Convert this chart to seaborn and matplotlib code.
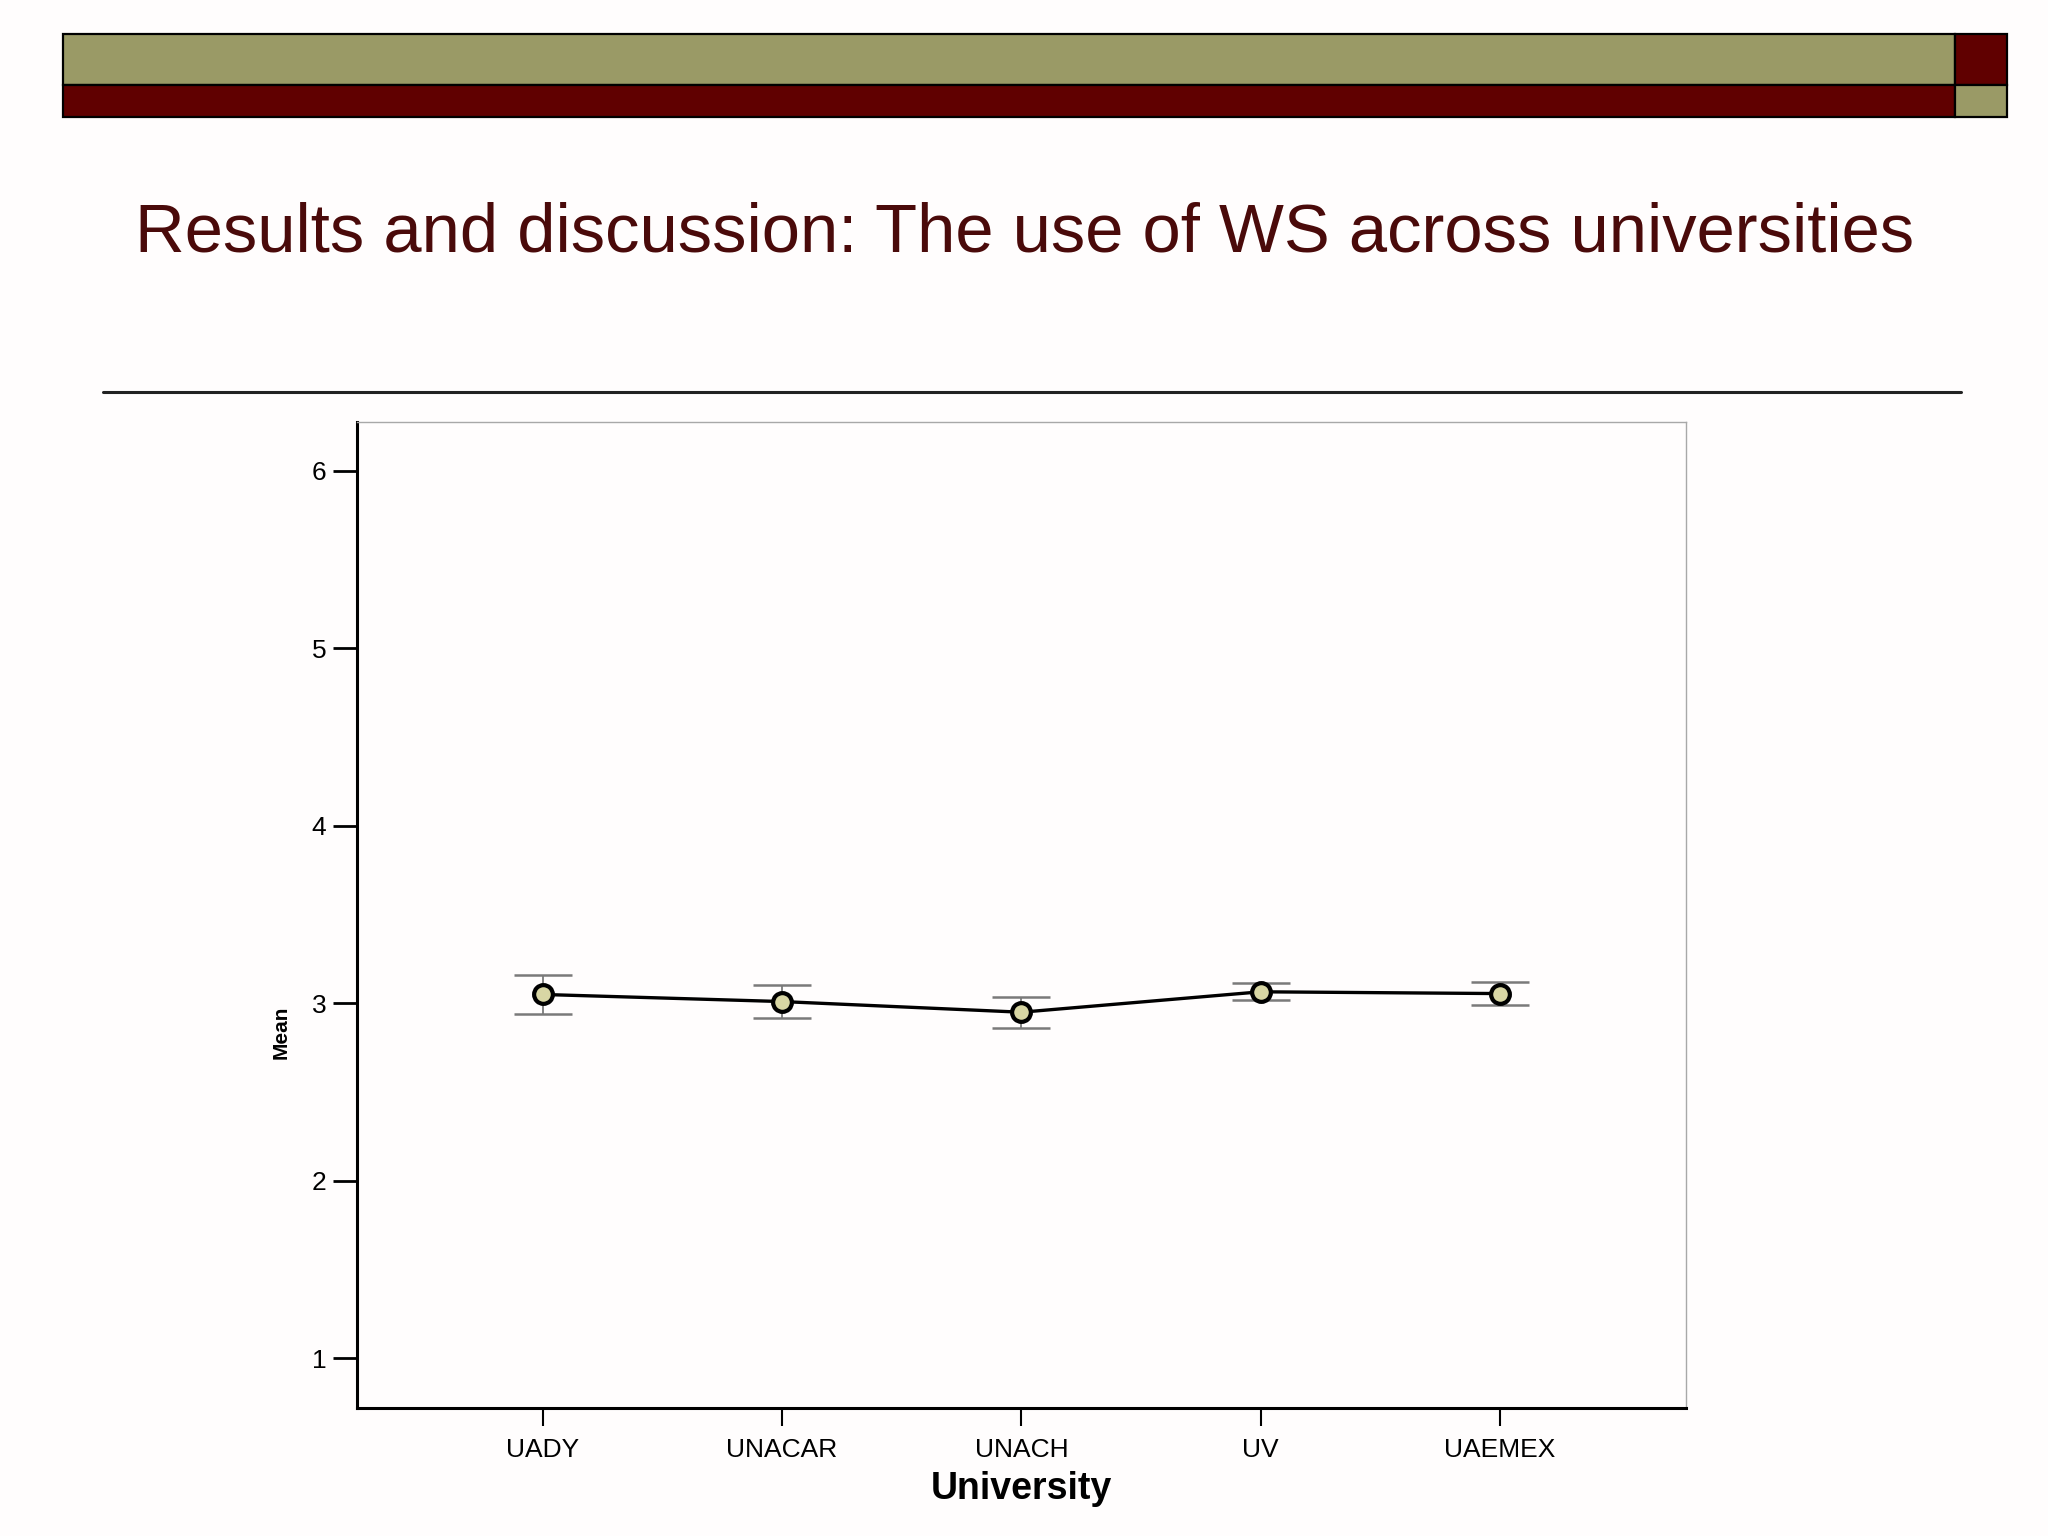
import matplotlib
matplotlib.use("Agg")
import matplotlib.pyplot as plt
import numpy as np
import pandas as pd
import seaborn as sns
from matplotlib.patches import Rectangle
from matplotlib.lines import Line2D

# data
universities = ["UADY", "UNACAR", "UNACH", "UV", "UAEMEX"]
means = [3.05, 3.01, 2.95, 3.065, 3.055]
ci_low = [2.94, 2.92, 2.86, 3.02, 2.99]
ci_high = [3.16, 3.105, 3.035, 3.115, 3.12]
y_ticks = [1, 2, 3, 4, 5, 6]

TITLE = "Results and discussion: The use of WS across universities"
OLIVE = "#9a9a66"
MAROON = "#600000"
TITLE_COL = "#4a0a0a"

sns.set_theme(style="white")
plt.rcParams["font.family"] = ["Liberation Sans", "DejaVu Sans"]

W, H = 2048, 1536
fig = plt.figure(figsize=(W / 100, H / 100), dpi=100)
fig.patch.set_facecolor("#fffdfd")


def px(x, y):
    # pixel coords (top-left origin) -> figure fraction
    return x / W, 1 - y / H


# slide header bars
def bar(x0, y0, x1, y1, colour):
    fx, fy = px(x0, y1)
    fig.patches.append(Rectangle((fx, fy), (x1 - x0) / W, (y1 - y0) / H,
                                 transform=fig.transFigure, facecolor=colour,
                                 edgecolor="black", linewidth=1.6))


bar(63, 34, 1955, 85, OLIVE)
bar(63, 85, 1955, 117, MAROON)
bar(1955, 34, 2007, 85, MAROON)
bar(1955, 85, 2007, 117, OLIVE)

fig.text(*px(1025, 234), TITLE, ha="center", va="center",
         fontsize=49.5, color=TITLE_COL)

x0, y0 = px(103, 392)
x1, _ = px(1961, 392)
fig.lines.append(Line2D([x0, x1], [y0, y0], transform=fig.transFigure,
                        color="#222222", linewidth=2.2))

# chart
ax = fig.add_axes([356.7 / W, 1 - 1407.7 / H, (1686 - 356.7) / W, (1407.7 - 422) / H])
ax.set_facecolor("#fffdfd")

df = pd.DataFrame({"University": universities, "Mean": means})
m = np.array(means)
yerr = [m - np.array(ci_low), np.array(ci_high) - m]
ax.errorbar(np.arange(len(universities)), m, yerr=yerr, fmt="none",
            ecolor="#7a7a7a", elinewidth=1.3, capsize=21, capthick=1.8, zorder=2)

sns.pointplot(data=df, x="University", y="Mean", order=universities,
              color="black", errorbar=None, markers="o", ax=ax,
              markerfacecolor="#d8d6a4", markeredgecolor="black",
              markersize=13.5, markeredgewidth=3, linewidth=2.4, zorder=3)

ax.set_xlim(-0.778, len(universities) - 1 + 0.778)
ax.set_ylim(0.722, 6.275)
ax.set_yticks(y_ticks)
ax.set_yticklabels([str(t) for t in y_ticks])

ax.tick_params(axis="y", direction="out", length=17, width=2, color="black",
               labelsize=19, pad=5, left=True)
ax.tick_params(axis="x", direction="out", length=13, width=1.5, color="black",
               labelsize=19, pad=9, bottom=True)
for lbl in ax.get_xticklabels() + ax.get_yticklabels():
    lbl.set_color("black")

for side in ("left", "bottom"):
    ax.spines[side].set_color("black")
    ax.spines[side].set_linewidth(2.2)
for side in ("top", "right"):
    ax.spines[side].set_color("#a8a8a8")
    ax.spines[side].set_linewidth(1.0)
    ax.spines[side].set_visible(True)

ax.set_xlabel("University", fontsize=27, fontweight="bold", labelpad=6, color="black")
ax.set_ylabel("")
fig.text(*px(281, 1032), "Mean", rotation=90, ha="center", va="center",
         fontsize=15, fontweight="bold", color="black")

fig.savefig("out.png", dpi=100, facecolor=fig.get_facecolor())
